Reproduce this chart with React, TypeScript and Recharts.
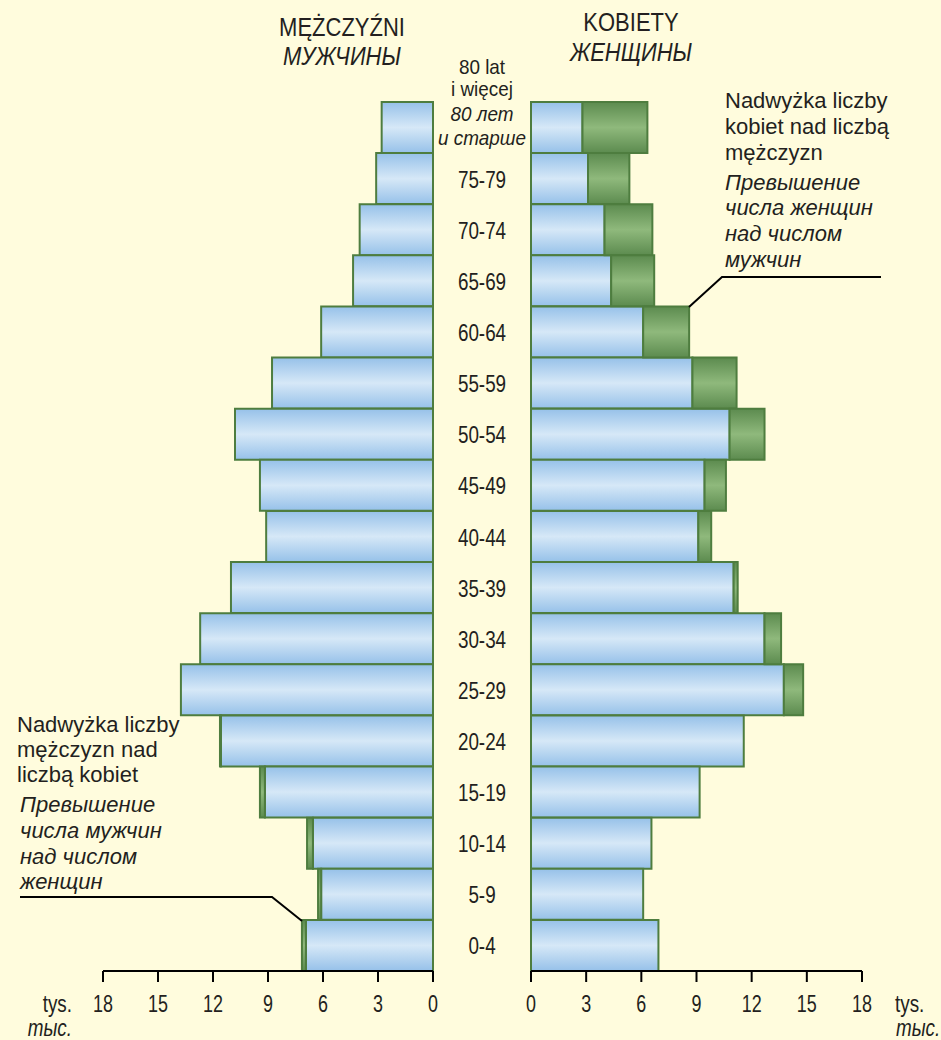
import { Bar, BarChart, XAxis, YAxis } from 'recharts'

// age groups from oldest (top) to youngest (bottom)
const ageGroups = ['80+', '75-79', '70-74', '65-69', '60-64', '55-59', '50-54', '45-49', '40-44', '35-39', '30-34', '25-29', '20-24', '15-19', '10-14', '5-9', '0-4']
const topGroupLines = ['80 lat', 'i więcej', '80 лет', 'и старше']

// thousands of people
const men = [2.8, 3.1, 4.0, 4.36, 6.1, 8.78, 10.8, 9.44, 9.1, 11.02, 12.7, 13.75, 11.62, 9.44, 6.87, 6.27, 7.15]
const women = [6.33, 5.35, 6.6, 6.7, 8.6, 11.18, 12.7, 10.6, 9.8, 11.24, 13.6, 14.8, 11.57, 9.17, 6.55, 6.1, 6.93]

const axisTicks = [0, 3, 6, 9, 12, 15, 18]

const rows = ageGroups.map((age, i) => ({
  age,
  common: Math.min(men[i], women[i]),
  menExtra: Math.max(0, men[i] - women[i]),
  womenExtra: Math.max(0, women[i] - men[i])
}))

const BG = '#fffcdd'
const TEXT = '#231f20'
const EDGE = '#4e7d3f'
const SANS = '"Liberation Sans", Arial, sans-serif'

const TOP = 102
const CHART_H = 1040
const X_AXIS_H = 40
const BOTTOM = 1040 - 971 - X_AXIS_H

// condensed look: Liberation Sans squeezed horizontally
function NText({ x, y, children, size = 23, sx = 0.82, italic = false, anchor = 'middle' }: any) {
  return (
    <text transform={`translate(${x},${y}) scale(${sx},1)`} x={0} y={0} textAnchor={anchor}
      fontSize={size} fill={TEXT} fontFamily={SANS} fontStyle={italic ? 'italic' : 'normal'}>
      {children}
    </text>
  )
}

function Gradients() {
  return (
    <defs>
      <linearGradient id="blueFill" x1="0" y1="0" x2="0" y2="1">
        <stop offset="0%" stopColor="#96c1e9" />
        <stop offset="50%" stopColor="#d6e8f7" />
        <stop offset="100%" stopColor="#96c1e9" />
      </linearGradient>
      <linearGradient id="greenFill" x1="0" y1="0" x2="0" y2="1">
        <stop offset="0%" stopColor="#5c8b4f" />
        <stop offset="50%" stopColor="#8fb97c" />
        <stop offset="100%" stopColor="#5c8b4f" />
      </linearGradient>
    </defs>
  )
}

function AgeTick(props: any) {
  const { y, index } = props
  const cx = 482
  if (index === 0) {
    const offsets = [-54, -32, -7, 17]
    return (
      <g>
        {topGroupLines.map((line, i) => (
          <NText key={line} x={cx} y={y + offsets[i]} size={21} sx={0.9} italic={i >= 2}>{line}</NText>
        ))}
      </g>
    )
  }
  return <NText x={cx} y={y + 9}>{props.payload.value}</NText>
}

function ValueTick(props: any) {
  const { x, y, payload } = props
  return <NText x={x} y={y + 30} size={23} sx={0.78}>{payload.value}</NText>
}

function Overlay() {
  const t = (x: number, y: number, s: string, italic = false) => (
    <text key={s + x + y} x={x} y={y} fontSize={22} fill={TEXT} fontFamily={SANS}
      fontStyle={italic ? 'italic' : 'normal'}>
      {s}
    </text>
  )
  return (
    <svg width={941} height={1040} style={{ position: 'absolute', left: 0, top: 0, pointerEvents: 'none' }}>
      <NText x={342} y={36} size={25} sx={0.88}>MĘŻCZYŹNI</NText>
      <NText x={342} y={65} size={25} sx={0.88} italic>МУЖЧИНЫ</NText>
      <NText x={631} y={31} size={25} sx={0.88}>KOBIETY</NText>
      <NText x={631} y={61} size={25} sx={0.88} italic>ЖЕНЩИНЫ</NText>

      {t(725, 108, 'Nadwyżka liczby')}
      {t(725, 134, 'kobiet nad liczbą')}
      {t(725, 160, 'mężczyzn')}
      {t(725, 190, 'Превышение', true)}
      {t(725, 215, 'числа женщин', true)}
      {t(725, 241, 'над числом', true)}
      {t(725, 267, 'мужчин', true)}
      <polyline points="689,307 722,277 881,277" fill="none" stroke="#000" strokeWidth={2} />

      {t(17, 732, 'Nadwyżka liczby')}
      {t(17, 757, 'mężczyzn nad')}
      {t(17, 782, 'liczbą kobiet')}
      {t(20, 812, 'Превышение', true)}
      {t(20, 838, 'числа мужчин', true)}
      {t(20, 864, 'над числом', true)}
      {t(20, 889, 'женщин', true)}
      <polyline points="20,897 272,897 302,921" fill="none" stroke="#000" strokeWidth={2} />

      <NText x={72} y={1012} anchor="end">tys.</NText>
      <NText x={72} y={1036} anchor="end" italic>тыс.</NText>
      <NText x={895} y={1012} anchor="start">tys.</NText>
      <NText x={896} y={1036} anchor="start" italic>тыс.</NText>
    </svg>
  )
}

export default function App() {
  return (
    <div style={{ position: 'absolute', left: 0, top: 0, width: 941, height: 1040, background: BG, overflow: 'hidden' }}>
      <div style={{ position: 'absolute', left: 0, top: 0 }}>
        <BarChart width={531} height={CHART_H} data={rows} layout="vertical" barCategoryGap={0}
          margin={{ top: TOP, right: 0, left: 103, bottom: BOTTOM }}>
          <Gradients />
          <XAxis type="number" domain={[0, 18]} ticks={axisTicks} reversed height={X_AXIS_H}
            axisLine={{ stroke: '#000', strokeWidth: 2 }} tickLine={{ stroke: '#000', strokeWidth: 2 }}
            tickSize={11} tickMargin={0} tick={<ValueTick />} interval={0} />
          <YAxis type="category" dataKey="age" orientation="right" width={98} axisLine={false} tickLine={false}
            tick={<AgeTick />} interval={0} />
          <Bar dataKey="common" stackId="m" fill="url(#blueFill)" stroke={EDGE} strokeWidth={2} isAnimationActive={false} />
          <Bar dataKey="menExtra" stackId="m" fill="url(#greenFill)" stroke={EDGE} strokeWidth={2} isAnimationActive={false} />
        </BarChart>
      </div>
      <div style={{ position: 'absolute', left: 500, top: 0 }}>
        <BarChart width={441} height={CHART_H} data={rows} layout="vertical" barCategoryGap={0}
          margin={{ top: TOP, right: 79, left: 31, bottom: BOTTOM }}>
          <Gradients />
          <XAxis type="number" domain={[0, 18]} ticks={axisTicks} height={X_AXIS_H}
            axisLine={{ stroke: '#000', strokeWidth: 2 }} tickLine={{ stroke: '#000', strokeWidth: 2 }}
            tickSize={11} tickMargin={0} tick={<ValueTick />} interval={0} />
          <YAxis type="category" dataKey="age" hide width={0} />
          <Bar dataKey="common" stackId="w" fill="url(#blueFill)" stroke={EDGE} strokeWidth={2} isAnimationActive={false} />
          <Bar dataKey="womenExtra" stackId="w" fill="url(#greenFill)" stroke={EDGE} strokeWidth={2} isAnimationActive={false} />
        </BarChart>
      </div>
      <Overlay />
    </div>
  )
}
